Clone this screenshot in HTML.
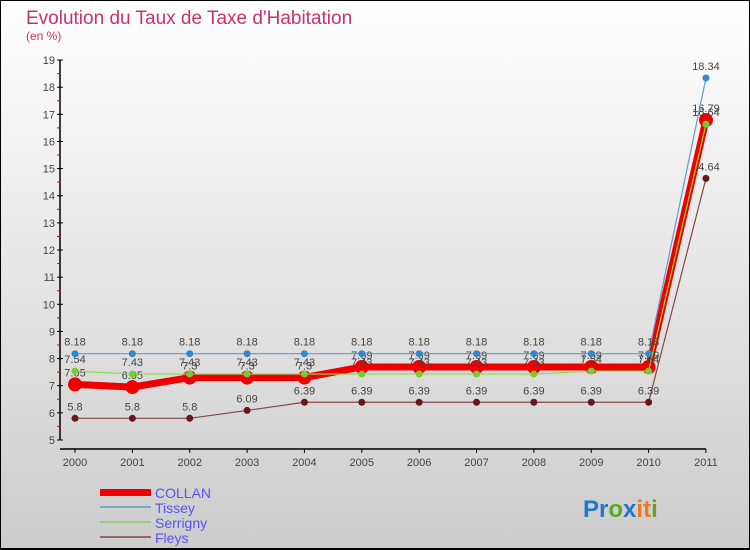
<!DOCTYPE html>
<html><head><meta charset="utf-8"><style>
body{margin:0;width:750px;height:550px;overflow:hidden;font-family:"Liberation Sans",sans-serif}
svg{display:block}
</style></head><body>
<svg id="chart" width="750" height="550" xmlns="http://www.w3.org/2000/svg" font-family="Liberation Sans, sans-serif">
<defs><linearGradient id="bg" x1="0" y1="0" x2="0" y2="1"><stop offset="0" stop-color="#ffffff"/><stop offset="1" stop-color="#cccccc"/></linearGradient></defs>
<rect x="0" y="0" width="750" height="550" fill="url(#bg)"/>
<rect x="0.5" y="0.5" width="749" height="548" fill="none" stroke="#000" stroke-width="1"/>
<line x1="0" y1="549" x2="750" y2="549" stroke="#000" stroke-width="2"/>
<text x="26" y="24" font-size="19" fill="#c8326a">Evolution du Taux de Taxe d'Habitation</text>
<text x="26" y="40" font-size="12" fill="#c8326a">(en %)</text>
<g id="axes"></g>
<g id="series"></g>
<g id="legend">
<rect x="100" y="489" width="51" height="7" fill="#ee0000"/>
<text x="155" y="498" font-size="14" fill="#5555ee">COLLAN</text>
<line x1="100" y1="507" x2="151" y2="507" stroke="#7ba7cc" stroke-width="2"/>
<text x="155" y="513" font-size="14" fill="#5555ee">Tissey</text>
<line x1="100" y1="522" x2="151" y2="522" stroke="#99cc77" stroke-width="2"/>
<text x="155" y="528" font-size="14" fill="#5555ee">Serrigny</text>
<line x1="100" y1="537" x2="151" y2="537" stroke="#996666" stroke-width="2"/>
<text x="155" y="543" font-size="14" fill="#5555ee">Fleys</text>
</g>
<text x="583" y="517" font-size="24" font-weight="bold"><tspan fill="#2277cc">Pr</tspan><tspan fill="#55aa22">o</tspan><tspan fill="#2277cc">x</tspan><tspan fill="#ee7722">i</tspan><tspan fill="#ee7722">t</tspan><tspan fill="#55aa22">i</tspan></text>
</svg>
<script>
const years=[2000,2001,2002,2003,2004,2005,2006,2007,2008,2009,2010,2011];
const yTicks=[5,6,7,8,9,10,11,12,13,14,15,16,17,18,19];
const collan=[7.05,6.95,7.3,7.3,7.3,7.69,7.69,7.69,7.69,7.69,7.69,16.79];
const tissey=[8.18,8.18,8.18,8.18,8.18,8.18,8.18,8.18,8.18,8.18,8.18,18.34];
const serrigny=[7.54,7.43,7.43,7.43,7.43,7.43,7.43,7.43,7.43,7.54,7.54,16.64];
const fleys=[5.8,5.8,5.8,6.09,6.39,6.39,6.39,6.39,6.39,6.39,6.39,14.64];
const NS='http://www.w3.org/2000/svg';
const X=i=>75+i*57.36;
const Y=v=>440-(v-5)*27.14;
function mk(tag,attrs,parent){const e=document.createElementNS(NS,tag);for(const k in attrs)e.setAttribute(k,attrs[k]);parent.appendChild(e);return e;}
const ax=document.getElementById('axes');
let a=mk('line',{x1:60,y1:Y(19),x2:60,y2:Y(5),stroke:'#000','stroke-width':1.5},ax);


a=mk('line',{x1:60,y1:449,x2:X(11),y2:449,stroke:'#000','stroke-width':1.5},ax);


yTicks.forEach(v=>{
 mk('line',{x1:57,y1:Y(v),x2:63,y2:Y(v),stroke:'#000'},ax);
 if(v<19)mk('line',{x1:57,y1:Y(v+0.5),x2:60,y2:Y(v+0.5),stroke:'#e00'},ax);
 const t=mk('text',{x:55,y:Y(v)+4,'font-size':11,fill:'#444','text-anchor':'end'},ax);
 
 
 t.textContent=v;
});
years.forEach((yr,i)=>{
 mk('line',{x1:X(i),y1:449,x2:X(i),y2:453,stroke:'#000'},ax);
 const t=mk('text',{x:X(i),y:466,'font-size':11,fill:'#444','text-anchor':'middle'},ax);
 
 
 t.textContent=yr;
});
const sg=document.getElementById('series');
function draw(name,vals,color,w,r,dot){
 const g=mk('g',{},sg);
 
 
 const p=mk('polyline',{points:vals.map((v,i)=>X(i)+','+Y(v)).join(' '),fill:'none',stroke:color,'stroke-width':w},g);
 
 
 vals.forEach((v,i)=>{
  const c=mk('circle',{cx:X(i),cy:Y(v),r:r,fill:dot},g);
  
  
  const t=mk('text',{x:X(i),y:Y(v)-8,'font-size':11,fill:'#444','text-anchor':'middle'},g);
  
  
  t.textContent=v;
 });
}
draw('fleys',fleys,'#884444',1.2,3.5,'#661818');
draw('collan',collan,'#ee0000',7,7,'#ee0000');
draw('serrigny',serrigny,'#88dd44',1.2,3.5,'#77cc33');
draw('tissey',tissey,'#6699cc',1.2,3.5,'#3388cc');
</script>
</body></html>
